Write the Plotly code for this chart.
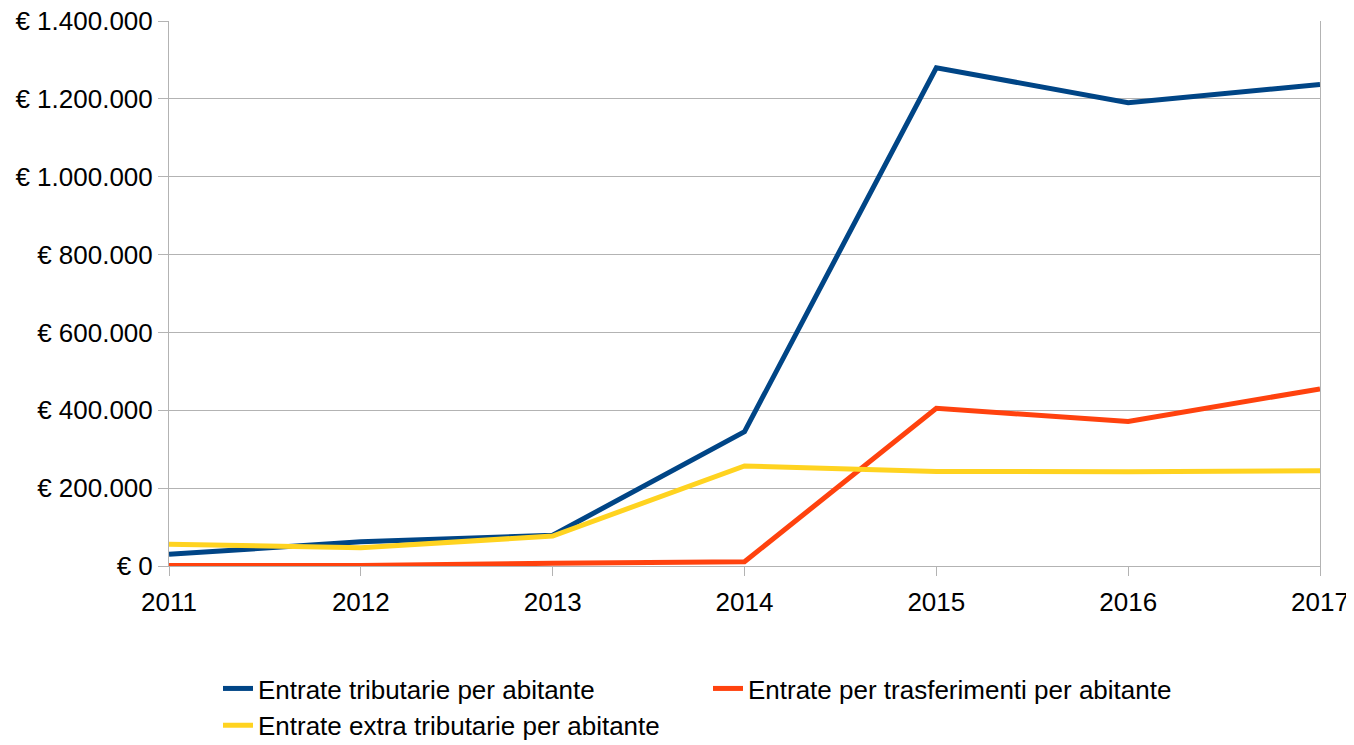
import plotly.graph_objects as go

years = ["2011", "2012", "2013", "2014", "2015", "2016", "2017"]
tributarie = [30000, 62000, 79000, 345000, 1280000, 1190000, 1237000]
trasferimenti = [1000, 1000, 7000, 11000, 405000, 371000, 455000]
extra_tributarie = [56000, 47000, 77000, 257000, 243000, 242000, 245000]

series_names = [
    "Entrate tributarie per abitante",
    "Entrate per trasferimenti per abitante",
    "Entrate extra tributarie per abitante",
]
colors = ["#004586", "#ff420e", "#ffd320"]

ytick_vals = [0, 200000, 400000, 600000, 800000, 1000000, 1200000, 1400000]
ytick_text = ["€ 0", "€ 200.000", "€ 400.000", "€ 600.000", "€ 800.000",
              "€ 1.000.000", "€ 1.200.000", "€ 1.400.000"]

fig = go.Figure()
for name, vals, col in zip(series_names, [tributarie, trasferimenti, extra_tributarie], colors):
    fig.add_trace(go.Scatter(x=years, y=vals, mode="lines", name=name,
                             line=dict(color=col, width=5)))

font = "Liberation Sans, Arial, sans-serif"
fig.update_layout(
    width=1346, height=737,
    margin=dict(l=161, r=34, t=13, b=179),
    paper_bgcolor="white", plot_bgcolor="white",
    font=dict(family=font, size=26, color="black"),
    showlegend=True,
    legend=dict(orientation="h", xref="container", yref="container",
                x=0.156, y=0.1085, xanchor="left", yanchor="top",
                entrywidth=445, entrywidthmode="pixels",
                font=dict(size=26, family=font), tracegroupgap=0,
                itemwidth=30),
    xaxis=dict(type="category", range=[0, 6], showgrid=False,
               showline=True, linecolor="#b3b3b3", linewidth=1,
               ticks="outside", ticklen=9, tickcolor="#b3b3b3",
               ticklabelstandoff=4, automargin=False,
               ticklabeloverflow="allow",
               tickfont=dict(size=26), zeroline=False),
    yaxis=dict(range=[0, 1400000], tickvals=ytick_vals, ticktext=ytick_text,
               showgrid=True, gridcolor="#b3b3b3", gridwidth=1,
               showline=True, linecolor="#b3b3b3", linewidth=1, mirror=True,
               ticks="outside", ticklen=10, tickcolor="#b3b3b3",
               automargin=False, ticklabeloverflow="allow",
               tickfont=dict(size=26), zeroline=False),
)

fig.write_html("out.html")
